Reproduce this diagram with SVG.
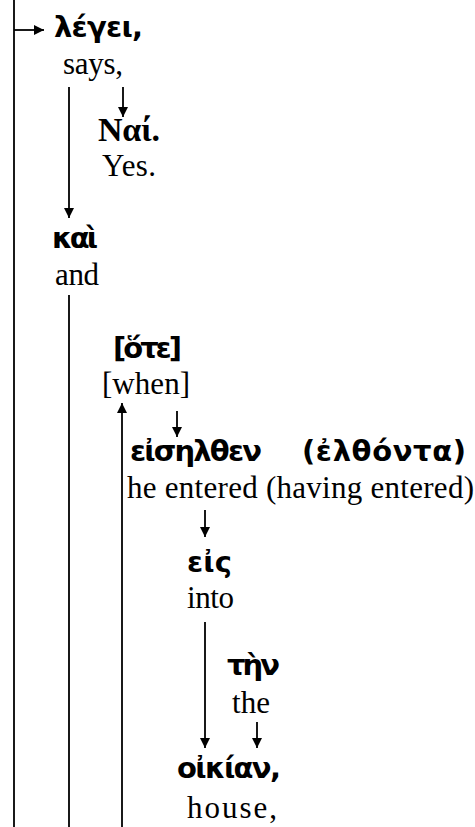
<svg xmlns="http://www.w3.org/2000/svg" width="475" height="827" viewBox="0 0 475 827">
<style>
.g{font-family:"DejaVu Sans","Noto Sans",sans-serif;font-weight:bold;font-size:29px;fill:#000}
.gs{font-family:"Liberation Serif",serif;font-weight:bold;font-size:34px;fill:#000}
.e{font-family:"Liberation Serif",serif;font-size:31px;fill:#000}
.c line{stroke:#000;stroke-width:1.8}
</style>
<defs>
<marker id="ah" viewBox="0 0 10 10" refX="10" refY="5" markerWidth="10" markerHeight="10" markerUnits="userSpaceOnUse" orient="auto">
<path d="M0,0 L10,5 L0,10 Z" fill="#000"/>
</marker>
</defs>
<rect width="475" height="827" fill="#fff"/>
<g class="c" id="connectors">
<line x1="14" y1="0" x2="14" y2="827"/>
<line x1="14" y1="30" x2="44" y2="30" marker-end="url(#ah)"/>
<line x1="69" y1="87" x2="69" y2="218" marker-end="url(#ah)"/>
<line x1="123" y1="87" x2="123" y2="117" marker-end="url(#ah)"/>
<line x1="69" y1="295" x2="69" y2="827"/>
<line x1="122" y1="827" x2="122" y2="403" marker-end="url(#ah)"/>
<line x1="177" y1="411" x2="177" y2="437" marker-end="url(#ah)"/>
<line x1="205" y1="510" x2="205" y2="537" marker-end="url(#ah)"/>
<line x1="205" y1="622" x2="205" y2="748" marker-end="url(#ah)"/>
<line x1="257" y1="722" x2="257" y2="748" marker-end="url(#ah)"/>
</g>
<g id="n-legei"><text class="g" x="54" y="37" textLength="89" lengthAdjust="spacing">λέγει,</text><text class="e" x="63" y="74" textLength="60" lengthAdjust="spacing">says,</text></g>
<g id="n-nai"><text class="gs" x="98" y="141" textLength="62" lengthAdjust="spacing">Ναί.</text><text class="e" x="102" y="176" textLength="54" lengthAdjust="spacing">Yes.</text></g>
<g id="n-kai"><text class="g" x="52" y="248" textLength="46" lengthAdjust="spacing">καὶ</text><text class="e" x="55" y="285" textLength="44" lengthAdjust="spacing">and</text></g>
<g id="n-ote"><text class="g" x="113" y="358" textLength="69" lengthAdjust="spacing">[ὅτε]</text><text class="e" x="102" y="394" textLength="88" lengthAdjust="spacing">[when]</text></g>
<g id="n-eiselthen"><text class="g" x="130" y="461" textLength="132" lengthAdjust="spacing">εἰσηλθεν</text><text class="g" x="302" y="461" textLength="164" lengthAdjust="spacing">(ἐλθόντα)</text><text class="e" x="127" y="498" textLength="347" lengthAdjust="spacing">he entered (having entered)</text></g>
<g id="n-eis"><text class="g" x="187" y="572" textLength="45" lengthAdjust="spacing">εἰς</text><text class="e" x="187" y="608" textLength="47" lengthAdjust="spacing">into</text></g>
<g id="n-ten"><text class="g" x="227" y="675" textLength="53" lengthAdjust="spacing">τὴν</text><text class="e" x="232" y="713" textLength="38" lengthAdjust="spacing">the</text></g>
<g id="n-oikian"><text class="g" x="177" y="778" textLength="104" lengthAdjust="spacing">οἰκίαν,</text><text class="e" x="187" y="818" textLength="90" lengthAdjust="spacing">house,</text></g>
</svg>
